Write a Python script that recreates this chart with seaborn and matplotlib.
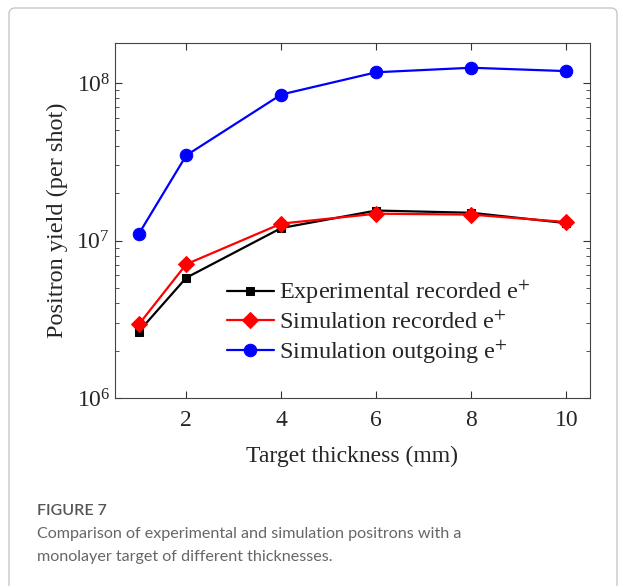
import numpy as np
import pandas as pd
import matplotlib
matplotlib.use("Agg")
import matplotlib.pyplot as plt
import seaborn as sns
from matplotlib.patches import FancyBboxPatch
from matplotlib.ticker import LogLocator, LogFormatterMathtext, NullFormatter

thickness = [1, 2, 4, 6, 8, 10]
exp_recorded = [2.64e6, 5.8e6, 1.2e7, 1.55e7, 1.5e7, 1.29e7]
sim_recorded = [2.93e6, 7.07e6, 1.28e7, 1.48e7, 1.46e7, 1.31e7]
sim_outgoing = [1.1e7, 3.47e7, 8.45e7, 1.17e8, 1.25e8, 1.19e8]
series_labels = ["Experimental recorded e$^{+}$",
                 "Simulation recorded e$^{+}$",
                 "Simulation outgoing e$^{+}$"]
x_ticks = [2, 4, 6, 8, 10]

sns.set_style("ticks")
plt.rcParams["font.family"] = ["Liberation Serif", "DejaVu Serif"]
plt.rcParams["mathtext.fontset"] = "stix"

fig = plt.figure(figsize=(6.25, 5.86), dpi=100)
fig.patches.append(FancyBboxPatch((9 / 625, -0.05), 608 / 625, 1.05 - 8 / 586,
                                  boxstyle="round,pad=0,rounding_size=0.01",
                                  transform=fig.transFigure, facecolor="white",
                                  edgecolor="#c8c8c8", linewidth=1.0, zorder=-10))
ax = fig.add_axes([115 / 625, 1 - 398 / 586, 475 / 625, 355 / 586])

df = pd.DataFrame({
    "x": thickness * 3,
    "y": exp_recorded + sim_recorded + sim_outgoing,
    "s": [series_labels[0]] * 6 + [series_labels[1]] * 6 + [series_labels[2]] * 6,
})
colors = ["black", "red", "blue"]
markers = ["s", "D", "o"]
msizes = [6, 8, 9]
for lab, c, m, ms in zip(series_labels, colors, markers, msizes):
    sub = df[df["s"] == lab]
    sns.lineplot(data=sub, x="x", y="y", ax=ax, color=c, marker=m, markersize=ms,
                 markeredgecolor=c, linewidth=1.6, label=lab)

ax.set_yscale("log")
ax.set_xlim(0.5, 10.5)
ax.set_ylim(1e6, 10 ** 8.254)
ax.set_xticks(x_ticks)
ax.set_xticklabels([str(t) for t in x_ticks])
ax.yaxis.set_major_locator(LogLocator(base=10, numticks=10))
ax.yaxis.set_major_formatter(LogFormatterMathtext())
ax.yaxis.set_minor_locator(LogLocator(base=10, subs=np.arange(2, 10), numticks=20))
ax.yaxis.set_minor_formatter(NullFormatter())
ax.tick_params(axis="both", which="both", direction="in", top=True, right=True,
               labelsize=17, color="#333333")
ax.tick_params(axis="both", which="major", length=5, width=0.8)
ax.tick_params(axis="y", which="minor", length=3, width=0.6)
ax.tick_params(axis="x", pad=9)
for sp in ax.spines.values():
    sp.set_linewidth(0.8)
    sp.set_color("#444444")
ax.set_xlabel("Target thickness (mm)", fontsize=17, labelpad=10)
ax.set_ylabel("Positron yield (per shot)", fontsize=17.5, labelpad=6)

leg = ax.legend(loc="upper left", bbox_to_anchor=(0.235, 0.335), frameon=False,
                fontsize=17.5, handlelength=1.95, handletextpad=0.2, labelspacing=0.2,
                borderaxespad=0, borderpad=0)

cap_font = ["Lato", "DejaVu Sans"]
fig.text(37 / 625, 1 - 511 / 586, "FIGURE 7", fontsize=11.5, color="#555555",
         family=cap_font, weight="semibold", va="center", ha="left")
fig.text(37 / 625, 1 - 534 / 586,
         "Comparison of experimental and simulation positrons with a",
         fontsize=11.6, color="#666666", family=cap_font, weight="normal",
         va="center", ha="left")
fig.text(37 / 625, 1 - 557 / 586, "monolayer target of different thicknesses.",
         fontsize=11.6, color="#666666", family=cap_font, weight="normal",
         va="center", ha="left")

fig.savefig("out.png", dpi=100)
